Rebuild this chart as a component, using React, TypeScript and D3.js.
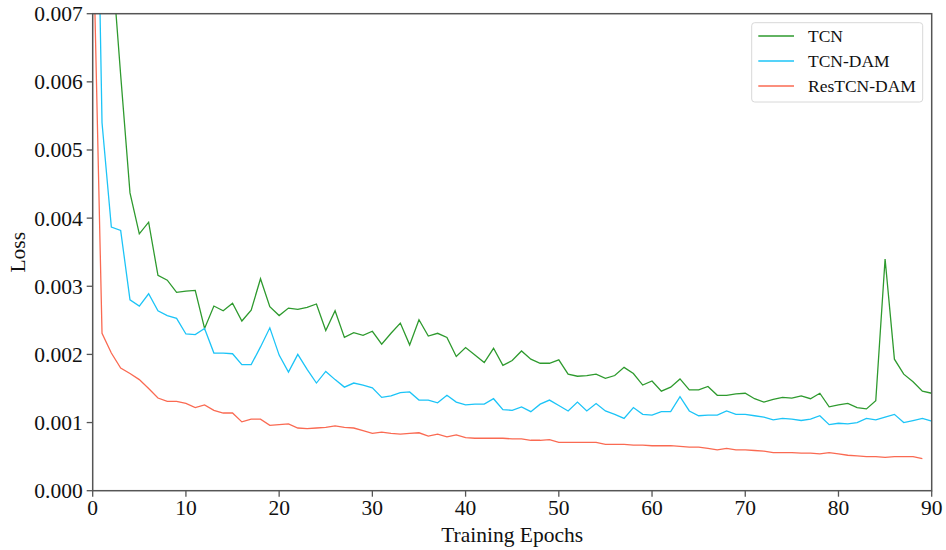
import React from "react";
import * as d3 from "d3";

const tcn = [
  0.016, 0.011, 0.0079, 0.0061, 0.00437, 0.00377, 0.00394, 0.00316, 0.00309, 0.00291,
  0.00293, 0.00294, 0.00238, 0.00271, 0.00264, 0.00275, 0.00249, 0.00265, 0.00311, 0.0027,
  0.00257, 0.00268, 0.00266, 0.00269, 0.00274, 0.00235, 0.00264, 0.00225, 0.00232, 0.00228,
  0.00234, 0.00215, 0.00231, 0.00246, 0.00214, 0.00251, 0.00227, 0.00231, 0.00225, 0.00197,
  0.0021, 0.00199, 0.00188, 0.00209, 0.00184, 0.00191, 0.00205, 0.00193, 0.00187, 0.00187,
  0.00192, 0.00171, 0.00168, 0.00169, 0.00171, 0.00165, 0.00169, 0.00181, 0.00172, 0.00155,
  0.00161, 0.00146, 0.00152, 0.00164, 0.00148, 0.00148, 0.00153, 0.0014, 0.0014, 0.00142,
  0.00143, 0.00135, 0.0013, 0.00134, 0.00137, 0.00136, 0.00139, 0.00135, 0.00143, 0.00123,
  0.00126, 0.00128, 0.00122, 0.0012, 0.00132, 0.0034, 0.00193, 0.00171, 0.0016, 0.00146,
  0.00143,
];

const tcnDam = [
  0.013, 0.0054, 0.00387, 0.00382, 0.0028, 0.00271, 0.00289, 0.00264, 0.00257, 0.00253,
  0.0023, 0.00229, 0.00238, 0.00202, 0.00202, 0.00201, 0.00185, 0.00185, 0.00211, 0.00239,
  0.00199, 0.00174, 0.002, 0.00178, 0.00158, 0.00175, 0.00163, 0.00152, 0.00158, 0.00155,
  0.00151, 0.00137, 0.00139, 0.00144, 0.00145, 0.00133, 0.00133, 0.00129, 0.0014, 0.0013,
  0.00126, 0.00127, 0.00127, 0.00135, 0.00119, 0.00118, 0.00123, 0.00116, 0.00127, 0.00133,
  0.00125, 0.00117, 0.0013, 0.00117, 0.00128, 0.00117, 0.00112, 0.00106, 0.00122, 0.00112,
  0.00111, 0.00116, 0.00116, 0.00138, 0.00117, 0.0011, 0.00111, 0.00111, 0.00117, 0.00112,
  0.00112, 0.0011, 0.00108, 0.00104, 0.00106, 0.00105, 0.00103, 0.00105, 0.0011, 0.00097,
  0.00099, 0.00098, 0.001, 0.00106, 0.00104, 0.00108, 0.00112, 0.001, 0.00103, 0.00106,
  0.00102,
];

const resTcnDam = [
  0.0085, 0.00231, 0.00202, 0.0018, 0.00172, 0.00163, 0.0015, 0.00136, 0.00131, 0.00131,
  0.00128, 0.00122, 0.00126, 0.00118, 0.00114, 0.00114, 0.00101, 0.00105, 0.00105, 0.00096,
  0.00097, 0.00098, 0.00092, 0.00091, 0.00092, 0.00093, 0.00095, 0.00093, 0.00092, 0.00088,
  0.00084, 0.00086, 0.00084, 0.00083, 0.00084, 0.00085, 0.0008, 0.00083, 0.00079, 0.00082,
  0.00078, 0.00077, 0.00077, 0.00077, 0.00077, 0.00076, 0.00076, 0.00074, 0.00074, 0.00075,
  0.00071, 0.00071, 0.00071, 0.00071, 0.00071, 0.00068, 0.00068, 0.00068, 0.00067, 0.00067,
  0.00066, 0.00066, 0.00066, 0.00065, 0.00064, 0.00064, 0.00062, 0.0006, 0.00062, 0.0006,
  0.0006, 0.00059, 0.00058, 0.00056, 0.00056, 0.00056, 0.00055, 0.00055, 0.00054, 0.00056,
  0.00054, 0.00052, 0.00051, 0.0005, 0.0005, 0.00049, 0.0005, 0.0005, 0.0005, 0.00047,
];

const seriesNames = ["TCN", "TCN-DAM", "ResTCN-DAM"];
const seriesColors = ["#2e9a2e", "#1cc4f7", "#fa6a52"];
const xTicks = [0, 10, 20, 30, 40, 50, 60, 70, 80, 90];
const yTicks = [0, 0.001, 0.002, 0.003, 0.004, 0.005, 0.006, 0.007];

const W = 946;
const H = 550;
const L = 92.7;
const R = 931.7;
const T = 13.7;
const B = 490.7;
const FONT = "'Liberation Serif', 'Times New Roman', serif";

export default function App() {
  const x = d3.scaleLinear().domain([0, 90]).range([L, R]);
  const y = d3.scaleLinear().domain([0, 0.007]).range([B, T]);
  const line = d3
    .line<number>()
    .x((_, i) => x(i))
    .y((d) => y(d));
  const all = [tcn, tcnDam, resTcnDam];
  const fmt = d3.format(".3f");

  return (
    <svg
      width={W}
      height={H}
      style={{ position: "absolute", left: 0, top: 0, background: "#fff" }}
      fontFamily={FONT}
    >
      <defs>
        <clipPath id="plotclip">
          <rect x={L} y={T} width={R - L} height={B - T} />
        </clipPath>
      </defs>
      <rect x={0} y={0} width={W} height={H} fill="#fff" />
      <g clipPath="url(#plotclip)">
        {all.map((s, k) => (
          <path
            key={k}
            d={line(s) || ""}
            fill="none"
            stroke={seriesColors[k]}
            strokeWidth={1.3}
            strokeLinejoin="miter"
          />
        ))}
      </g>
      {/* spines */}
      <rect x={L} y={T} width={R - L} height={B - T} fill="none" stroke="#555" strokeWidth={1.5} />
      {/* y ticks */}
      {yTicks.map((t) => (
        <g key={"y" + t}>
          <line x1={L - 6} x2={L} y1={y(t)} y2={y(t)} stroke="#555" strokeWidth={1.3} />
          <text
            x={L - 10}
            y={y(t) + 7.5}
            textAnchor="end"
            fontSize={21.5}
            fill="#111"
          >
            {fmt(t)}
          </text>
        </g>
      ))}
      {/* x ticks */}
      {xTicks.map((t) => (
        <g key={"x" + t}>
          <line x1={x(t)} x2={x(t)} y1={B} y2={B + 6} stroke="#555" strokeWidth={1.3} />
          <text x={x(t)} y={B + 24} textAnchor="middle" fontSize={21.5} fill="#111">
            {t}
          </text>
        </g>
      ))}
      <text x={(L + R) / 2} y={542} textAnchor="middle" fontSize={21.5} fill="#111">
        Training Epochs
      </text>
      <text
        transform={`translate(25, ${(T + B) / 2}) rotate(-90)`}
        textAnchor="middle"
        fontSize={21.5}
        fill="#111"
      >
        Loss
      </text>
      {/* legend */}
      <g>
        <rect
          x={751.7}
          y={22.7}
          width={171}
          height={79.3}
          rx={3}
          fill="#fff"
          stroke="#d8d8d8"
          strokeWidth={1}
        />
        {seriesNames.map((n, k) => (
          <g key={n}>
            <line
              x1={758.3}
              x2={794}
              y1={36 + k * 25}
              y2={36 + k * 25}
              stroke={seriesColors[k]}
              strokeWidth={1.3}
            />
            <text x={808} y={36 + k * 25 + 6} fontSize={17.5} fill="#111">
              {n}
            </text>
          </g>
        ))}
      </g>
    </svg>
  );
}
